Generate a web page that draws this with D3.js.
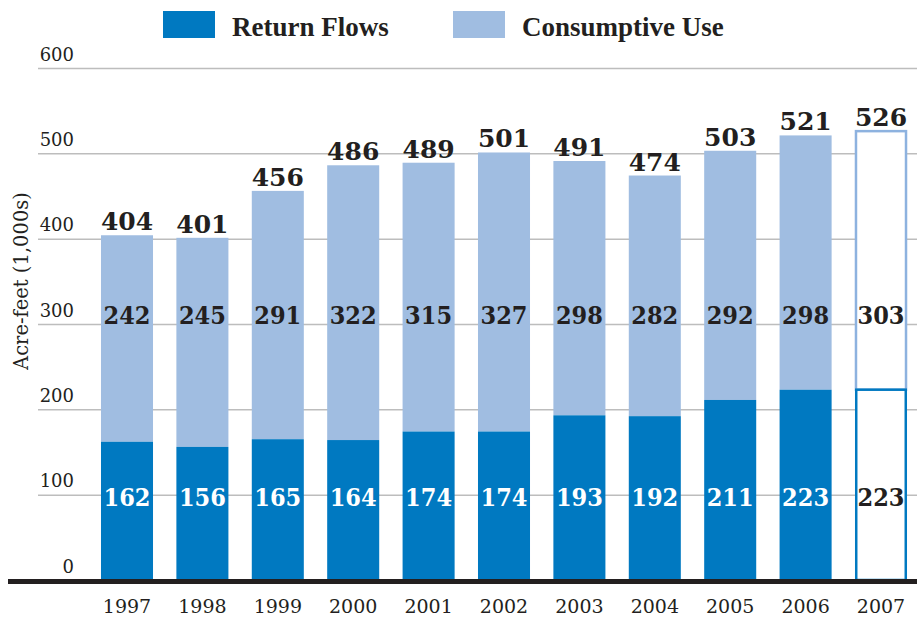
<!DOCTYPE html>
<html>
<head>
<meta charset="utf-8">
<script src="https://cdn.jsdelivr.net/npm/d3@7"></script>
<style>
  body { margin: 0; background: #fff; }
  svg { display: block; }
  .num { font-family: "DejaVu Serif", serif; font-weight: bold; fill: #231f20; }
  .inner { font-family: "DejaVu Serif Condensed", "DejaVu Serif", serif; font-stretch: condensed; font-weight: bold; }
</style>
</head>
<body>
<div id="chart"></div>
<script>
// chart values (acre-feet, 1,000s)
var years = ["1997", "1998", "1999", "2000", "2001", "2002", "2003", "2004", "2005", "2006", "2007"];
var returnFlows = [162, 156, 165, 164, 174, 174, 193, 192, 211, 223, 223];
var consumptiveUse = [242, 245, 291, 322, 315, 327, 298, 282, 292, 298, 303];
var totals = [404, 401, 456, 486, 489, 501, 491, 474, 503, 521, 526];
var projectedYears = ["2007"];
var yTicks = [0, 100, 200, 300, 400, 500, 600];
var seriesNames = ["Return Flows", "Consumptive Use"];

var width = 917;
var height = 617;

var darkBlue = "#0079c1";
var lightBlue = "#a0bde1";
var ink = "#231f20";

var svg = d3.select("#chart")
  .append("svg")
  .attr("width", width)
  .attr("height", height);

// scales
var x = d3.scaleBand()
  .domain(years)
  .range([89.3, 918.7])
  .paddingInner(0.31)
  .paddingOuter(0.155);

var y = d3.scaleLinear()
  .domain([0, 600])
  .range([580, 68]);

// gridlines + tick labels
var yAxis = d3.axisLeft(y)
  .tickValues(yTicks)
  .tickSize(width - 38)
  .tickFormat(d3.format("d"));

var gy = svg.append("g")
  .attr("transform", "translate(" + width + ",0)")
  .call(yAxis);
gy.select(".domain").remove();
gy.selectAll(".tick line")
  .attr("stroke", "#bdbdbd")
  .attr("stroke-width", 1.5);
gy.selectAll(".tick text")
  .attr("x", 74 - width)
  .attr("dy", -8)
  .attr("text-anchor", "end")
  .style("font-family", "'DejaVu Serif', serif")
  .style("font-size", "18px")
  .attr("fill", ink);

// y axis title
svg.append("text")
  .attr("transform", "translate(28," + 281 + ")rotate(-90)")
  .attr("text-anchor", "middle")
  .style("font-family", "'DejaVu Serif', serif")
  .style("font-size", "19.5px")
  .attr("fill", ink)
  .text("Acre-feet (1,000s)");

var data = years.map(function(yr, i) {
  return {
    year: yr,
    ret: returnFlows[i],
    cons: consumptiveUse[i],
    total: totals[i],
    projected: projectedYears.indexOf(yr) >= 0
  };
});

var bars = svg.selectAll("g.bar")
  .data(data)
  .enter()
  .append("g")
  .attr("class", "bar");

// consumptive use (top part)
bars.append("rect")
  .attr("x", function(d) { return d.projected ? x(d.year) + 1 : x(d.year); })
  .attr("y", function(d) { return y(d.total); })
  .attr("width", function(d) { return d.projected ? x.bandwidth() - 2 : x.bandwidth(); })
  .attr("height", function(d) { return y(d.ret) - y(d.total); })
  .attr("fill", function(d) { return d.projected ? "#fff" : lightBlue; })
  .attr("stroke", function(d) { return d.projected ? "#8db2df" : "none"; })
  .attr("stroke-width", 2.5);

// return flows (bottom part)
bars.append("rect")
  .attr("x", function(d) { return d.projected ? x(d.year) + 1.25 : x(d.year); })
  .attr("y", function(d) { return y(d.ret); })
  .attr("width", function(d) { return d.projected ? x.bandwidth() - 2.5 : x.bandwidth(); })
  .attr("height", function(d) { return y(0) - y(d.ret); })
  .attr("fill", function(d) { return d.projected ? "#fff" : darkBlue; })
  .attr("stroke", function(d) { return d.projected ? darkBlue : "none"; })
  .attr("stroke-width", 2.5);

// total labels
bars.append("text")
  .attr("class", "num")
  .attr("x", function(d) { return x(d.year) + x.bandwidth() / 2; })
  .attr("y", function(d) { return y(d.total) - 5; })
  .attr("text-anchor", "middle")
  .style("font-size", "25px")
  .text(function(d) { return d.total; });

// consumptive labels
bars.append("text")
  .attr("class", "num inner")
  .attr("x", function(d) { return x(d.year) + x.bandwidth() / 2; })
  .attr("y", y(300))
  .attr("text-anchor", "middle")
  .style("font-size", "25px")
  .text(function(d) { return d.cons; });

// return flow labels
bars.append("text")
  .attr("class", "num inner")
  .attr("x", function(d) { return x(d.year) + x.bandwidth() / 2; })
  .attr("y", y(100) + 11)
  .attr("text-anchor", "middle")
  .style("font-size", "25px")
  .style("fill", function(d) { return d.projected ? ink : "#fff"; })
  .text(function(d) { return d.ret; });

// heavy baseline
svg.append("rect")
  .attr("x", 8)
  .attr("y", y(0) - 1)
  .attr("width", width - 8)
  .attr("height", 5)
  .attr("fill", ink);

// year labels
var xAxis = d3.axisBottom(x).tickSize(0);
var gx = svg.append("g")
  .attr("transform", "translate(0," + y(0) + ")")
  .call(xAxis);
gx.select(".domain").remove();
gx.selectAll(".tick text")
  .attr("y", 33)
  .attr("dy", 0)
  .style("font-family", "'DejaVu Serif', serif")
  .style("font-size", "19px")
  .attr("fill", ink);

// legend
var legendX = [163, 453];
var legendColors = [darkBlue, lightBlue];
var legend = svg.selectAll("g.legend")
  .data(seriesNames)
  .enter()
  .append("g")
  .attr("class", "legend")
  .attr("transform", function(d, i) { return "translate(" + legendX[i] + ",11)"; });

legend.append("rect")
  .attr("width", 52)
  .attr("height", 27)
  .attr("fill", function(d, i) { return legendColors[i]; });

legend.append("text")
  .attr("x", 69)
  .attr("y", 25)
  .style("font-family", "'Liberation Serif', serif")
  .style("font-weight", "bold")
  .style("font-size", "27px")
  .attr("fill", ink)
  .text(function(d) { return d; });
</script>
</body>
</html>
